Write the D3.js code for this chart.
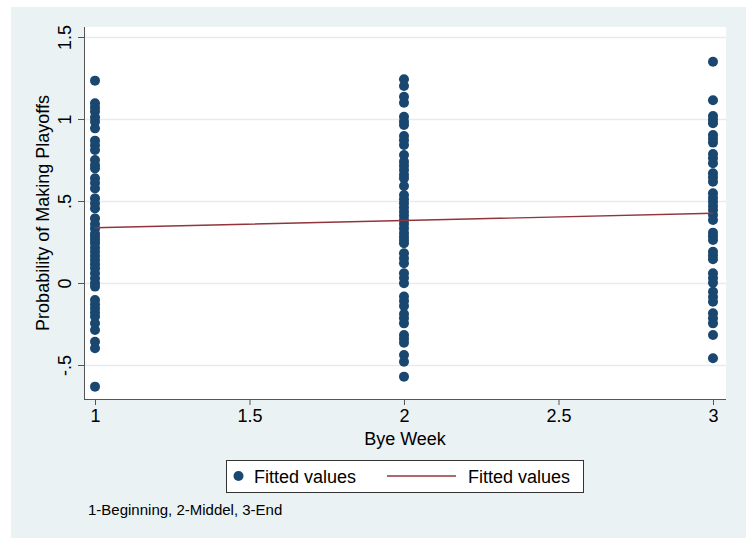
<!DOCTYPE html>
<html>
<head>
<meta charset="utf-8">
<script src="https://cdn.jsdelivr.net/npm/d3@7"></script>
<style>
  html, body { margin: 0; padding: 0; background: #ffffff; }
  svg { display: block; }
  text { font-family: "Liberation Sans", Arial, sans-serif; fill: #000; }
</style>
</head>
<body>
<svg id="chart" width="746" height="538"></svg>
<script>
// Bye week groups (x) and fitted playoff probabilities per team (y)
const byeWeeks = [1, 2, 3];
const fittedWeek1 = [1.234, 1.096, 1.070, 1.045, 1.010, 0.984, 0.943, 0.868, 0.840, 0.811,
  0.750, 0.720, 0.699, 0.638, 0.610, 0.577, 0.516, 0.485, 0.455, 0.394, 0.360, 0.333,
  0.300, 0.282, 0.262, 0.242, 0.215, 0.191, 0.165, 0.140, 0.115, 0.090, 0.060, 0.029,
  0.000, -0.022, -0.104, -0.130, -0.154, -0.180, -0.205, -0.246, -0.287, -0.358, -0.398, -0.632];
const fittedWeek2 = [1.242, 1.201, 1.136, 1.099, 1.014, 0.985, 0.963, 0.896, 0.870, 0.841,
  0.780, 0.740, 0.715, 0.689, 0.660, 0.638, 0.591, 0.537, 0.510, 0.486, 0.460, 0.435,
  0.410, 0.384, 0.360, 0.333, 0.305, 0.282, 0.262, 0.242, 0.181, 0.150, 0.120, 0.059,
  0.030, -0.002, -0.083, -0.110, -0.140, -0.189, -0.215, -0.246, -0.317, -0.340, -0.364,
  -0.439, -0.480, -0.571];
const fittedWeek3 = [1.349, 1.114, 1.018, 0.995, 0.974, 0.902, 0.880, 0.856, 0.787, 0.760,
  0.730, 0.669, 0.645, 0.618, 0.547, 0.520, 0.496, 0.470, 0.445, 0.415, 0.384, 0.307,
  0.285, 0.262, 0.191, 0.168, 0.145, 0.059, 0.030, 0.002, -0.053, -0.085, -0.114, -0.185,
  -0.215, -0.246, -0.317, -0.459];
// Linear fit of the probabilities on bye week
const lineFitted = [0.337, 0.381, 0.425];

const xTicks = [1, 1.5, 2, 2.5, 3];
const xTickLabels = ["1", "1.5", "2", "2.5", "3"];
const yTicks = [-0.5, 0, 0.5, 1, 1.5];
const yTickLabels = ["-.5", "0", ".5", "1", "1.5"];
const legendLabels = ["Fitted values", "Fitted values"];
const noteText = "1-Beginning, 2-Middel, 3-End";

const navy = "#1a476f", maroon = "#90353b", bgBlue = "#eaf2f3", axisGray = "#555";
const fontMain = "18px";

const svg = d3.select("#chart");
const plot = { left: 84, right: 726, top: 27, bottom: 399 };

const x = d3.scaleLinear().domain([0.9644, 3.0421]).range([plot.left, plot.right]);
const y = d3.scaleLinear().domain([-0.7073, 1.5610]).range([plot.bottom, plot.top]);

// Outer graph region and white plot region
svg.append("rect").attr("x", 11).attr("y", 7).attr("width", 746 - 11).attr("height", 538 - 7).attr("fill", bgBlue);
svg.append("rect").attr("x", plot.left).attr("y", plot.top)
  .attr("width", plot.right - plot.left).attr("height", plot.bottom - plot.top).attr("fill", "#fff");

// Horizontal gridlines
svg.append("g").selectAll("line").data(yTicks).join("line")
  .attr("x1", plot.left).attr("x2", plot.right)
  .attr("y1", d => Math.round(y(d)) + 0.5).attr("y2", d => Math.round(y(d)) + 0.5)
  .attr("stroke", "#e3ecee").attr("stroke-width", 1.3);

// Y axis
const yAxis = d3.axisLeft(y).tickValues(yTicks).tickSize(6)
  .tickFormat((d, i) => yTickLabels[i]);
const gy = svg.append("g").attr("transform", `translate(${plot.left},0)`).call(yAxis);
gy.select(".domain").attr("stroke", axisGray).attr("d", `M0.5,${plot.top}V${plot.bottom}`);
gy.selectAll(".tick line").attr("stroke", axisGray);
gy.selectAll(".tick text")
  .attr("font-size", fontMain).attr("fill", "#000")
  .attr("text-anchor", "middle")
  .attr("transform", "rotate(-90)")
  .attr("x", 0).attr("y", -13).attr("dy", 0);

// X axis
const xAxis = d3.axisBottom(x).tickValues(xTicks).tickSize(6)
  .tickFormat((d, i) => xTickLabels[i]);
const gx = svg.append("g").attr("transform", `translate(0,${plot.bottom})`).call(xAxis);
gx.select(".domain").attr("stroke", axisGray).attr("d", `M${plot.left},0.5H${plot.right}`);
gx.selectAll(".tick line").attr("stroke", axisGray);
gx.selectAll(".tick text").attr("font-size", fontMain).attr("fill", "#000").attr("y", 10).attr("dy", "0.71em");

// Axis titles
svg.append("text").attr("x", (plot.left + plot.right) / 2).attr("y", 445)
  .attr("text-anchor", "middle").attr("font-size", fontMain).text("Bye Week");
svg.append("text").attr("transform", `translate(49,${(plot.top + plot.bottom) / 2}) rotate(-90)`)
  .attr("text-anchor", "middle").attr("font-size", fontMain).text("Probability of Making Playoffs");

// Scatter of fitted values per bye week
const points = [];
[fittedWeek1, fittedWeek2, fittedWeek3].forEach((vals, i) => {
  vals.forEach(v => points.push({ week: byeWeeks[i], value: v }));
});
svg.append("g").selectAll("circle").data(points).join("circle")
  .attr("cx", d => x(d.week)).attr("cy", d => y(d.value))
  .attr("r", 5).attr("fill", navy);

// Fitted line
const line = d3.line().x((d, i) => x(byeWeeks[i])).y(d => y(d));
svg.append("path").datum(lineFitted).attr("d", line)
  .attr("fill", "none").attr("stroke", maroon).attr("stroke-width", 1.4);

// Legend
const lg = svg.append("g");
lg.append("rect").attr("x", 226.5).attr("y", 460.5).attr("width", 357).attr("height", 32)
  .attr("fill", "#fff").attr("stroke", "#333").attr("stroke-width", 1);
lg.append("circle").attr("cx", 238.5).attr("cy", 476).attr("r", 5).attr("fill", navy);
lg.append("text").attr("x", 254).attr("y", 482.5).attr("font-size", fontMain).text(legendLabels[0]);
lg.append("line").attr("x1", 387).attr("x2", 456).attr("y1", 476).attr("y2", 476)
  .attr("stroke", maroon).attr("stroke-width", 1.4);
lg.append("text").attr("x", 468).attr("y", 482.5).attr("font-size", fontMain).text(legendLabels[1]);

// Note
svg.append("text").attr("x", 88).attr("y", 515).attr("font-size", "15px").text(noteText);
</script>
</body>
</html>
